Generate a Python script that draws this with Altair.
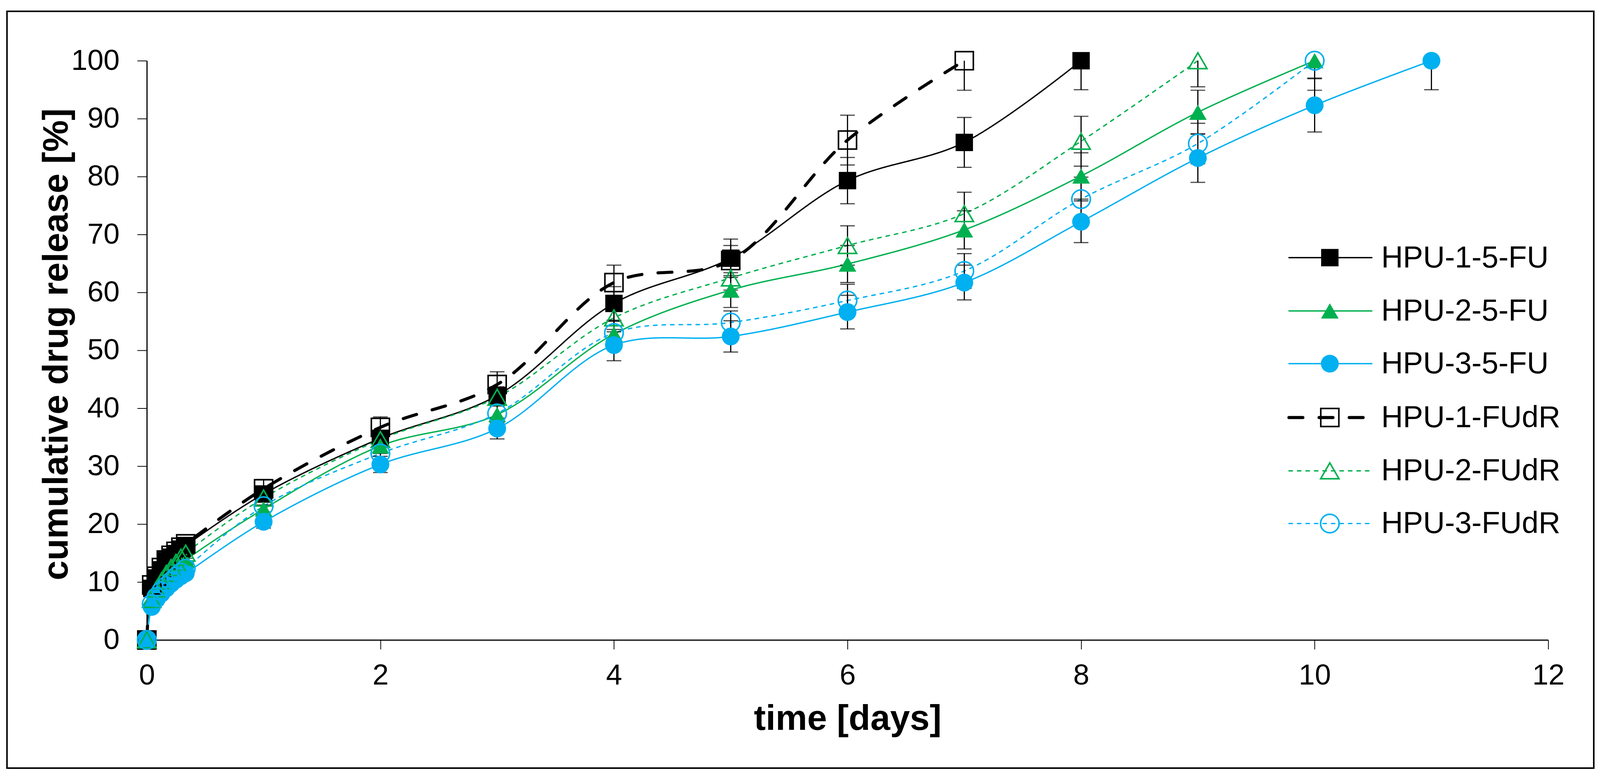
import altair as alt
import pandas as pd

# ---------------- data ----------------
SERIES = ["HPU-1-5-FU", "HPU-2-5-FU", "HPU-3-5-FU", "HPU-1-FUdR", "HPU-2-FUdR", "HPU-3-FUdR"]
FILLED = ["HPU-1-5-FU", "HPU-2-5-FU", "HPU-3-5-FU"]
OPEN = ["HPU-1-FUdR", "HPU-2-FUdR", "HPU-3-FUdR"]
THICK = ["HPU-1-FUdR"]
THIN = ["HPU-1-5-FU", "HPU-2-5-FU", "HPU-3-5-FU", "HPU-2-FUdR", "HPU-3-FUdR"]

t_early = [0, 0.042, 0.083, 0.125, 0.167, 0.208, 0.25, 0.292, 0.333]

time_1_5fu = t_early + [1, 2, 3, 4, 5, 6, 7, 8]
rel_1_5fu = [0, 8.9, 10.7, 12.1, 13.7, 14.3, 14.9, 15.7, 16.3, 25.2, 34.8, 42.2, 58.1, 65.9, 79.3, 85.9, 100]
sd_1_5fu = [0, 0.8, 0.8, 0.9, 0.9, 0.9, 1.0, 1.0, 1.0, 1.0, 1.2, 1.5, 2.9, 3.3, 4.0, 4.3, 5.0]

time_2_5fu = t_early + [1, 2, 3, 4, 5, 6, 7, 8, 9, 10]
rel_2_5fu = [0, 6.5, 8.0, 9.4, 10.6, 11.6, 12.4, 13.1, 13.8, 22.6, 33.5, 38.9, 52.8, 60.4, 64.9, 70.8, 80.1, 91.1, 100]
sd_2_5fu = [0, 0.7, 0.7, 0.8, 0.8, 0.8, 0.9, 0.9, 0.9, 1.2, 1.3, 1.5, 2.3, 3.0, 3.2, 3.3, 4.0, 3.8, 5.1]

time_3_5fu = t_early + [1, 2, 3, 4, 5, 6, 7, 8, 9, 10, 11]
rel_3_5fu = [0, 5.7, 7.0, 8.0, 8.9, 9.7, 10.4, 11.0, 11.5, 20.4, 30.3, 36.5, 50.9, 52.4, 56.6, 61.7, 72.2, 83.2, 92.3, 100]
sd_3_5fu = [0, 0.6, 0.6, 0.7, 0.7, 0.7, 0.8, 0.8, 0.8, 1.1, 1.4, 1.8, 2.7, 2.7, 2.9, 3.0, 3.6, 4.2, 4.6, 5.0]

time_1_fudr = t_early + [1, 2, 3, 4, 5, 6, 7]
rel_1_fudr = [0, 9.5, 11.0, 12.5, 13.8, 14.6, 15.3, 16.0, 16.6, 26.1, 36.7, 44.1, 61.7, 65.5, 86.3, 100]
sd_1_fudr = [0, 0.8, 0.8, 0.9, 0.9, 0.9, 1.0, 1.0, 1.0, 1.6, 1.8, 2.2, 3.0, 2.6, 4.3, 5.1]

time_2_fudr = t_early + [1, 2, 3, 4, 5, 6, 7, 8, 9]
rel_2_fudr = [0, 7.0, 8.8, 10.2, 11.5, 12.5, 13.4, 14.3, 15.0, 24.5, 34.6, 41.9, 55.6, 62.5, 68.1, 73.6, 86.1, 100]
sd_2_fudr = [0, 0.7, 0.7, 0.8, 0.8, 0.8, 0.9, 0.9, 0.9, 1.2, 1.4, 1.5, 2.4, 2.1, 3.4, 3.7, 4.3, 4.5]

time_3_fudr = t_early + [1, 2, 3, 4, 5, 6, 7, 8, 9, 10]
rel_3_fudr = [0, 6.2, 7.4, 8.4, 9.3, 10.1, 10.9, 11.6, 12.3, 23.1, 32.2, 39.1, 53.0, 54.8, 58.6, 63.7, 76.1, 85.7, 100]
sd_3_fudr = [0, 0.6, 0.6, 0.7, 0.7, 0.7, 0.8, 0.8, 0.8, 1.0, 1.3, 1.5, 2.0, 2.0, 2.8, 3.0, 3.8, 3.5, 3.0]

X_TICKS = [0, 2, 4, 6, 8, 10, 12]
Y_TICKS = [0, 10, 20, 30, 40, 50, 60, 70, 80, 90, 100]

# ---------------- styles ----------------
COLORS = ["#000000", "#00B050", "#00B0F0", "#000000", "#00B050", "#00B0F0"]
SHAPES = ["square", "triangle-up", "circle", "square", "triangle-up", "circle"]
DASHES = [[1, 0], [1, 0], [1, 0], [36, 42], [9, 13], [9, 13]]
SIZES = [2025, 2300, 2116, 1700, 1950, 1760]

FONT = "Liberation Sans"

series_data = [
    ("HPU-1-5-FU", time_1_5fu, rel_1_5fu, sd_1_5fu),
    ("HPU-2-5-FU", time_2_5fu, rel_2_5fu, sd_2_5fu),
    ("HPU-3-5-FU", time_3_5fu, rel_3_5fu, sd_3_5fu),
    ("HPU-1-FUdR", time_1_fudr, rel_1_fudr, sd_1_fudr),
    ("HPU-2-FUdR", time_2_fudr, rel_2_fudr, sd_2_fudr),
    ("HPU-3-FUdR", time_3_fudr, rel_3_fudr, sd_3_fudr),
]
rows = []
for name, ts, vs, ss in series_data:
    for t, v, s in zip(ts, vs, ss):
        rows.append({"series": name, "t": t, "v": v, "sd": s})
df = pd.DataFrame(rows)

# legend layout (positions in data units)
LEG_Y = [66, 56.8, 47.7, 38.4, 29.2, 20.1]
leg = pd.DataFrame({"series": SERIES, "ly": LEG_Y})
leg["lx0"] = 9.78
leg["lx1"] = 10.49
leg["lxm"] = 10.13
leg["lxt"] = 10.57

W, H = 3628, 1500

color_s = alt.Color("series:N", scale=alt.Scale(domain=SERIES, range=COLORS), legend=None)
dash_s = alt.StrokeDash("series:N", scale=alt.Scale(domain=SERIES, range=DASHES), legend=None)
shape_s = alt.Shape("series:N", scale=alt.Scale(domain=SERIES, range=SHAPES), legend=None)
size_s = alt.Size("series:N", scale=alt.Scale(domain=SERIES, range=SIZES), legend=None)


def only(names):
    return alt.FieldOneOfPredicate(field="series", oneOf=names)


x_enc = alt.X(
    "t:Q",
    scale=alt.Scale(domain=[0, 12], nice=False, zero=False),
    axis=alt.Axis(
        values=X_TICKS, grid=False, title="time [days]", format="d", labelFlush=False,
        domainColor="black", domainWidth=3, tickColor="black", tickWidth=2, tickSize=24,
        labelFont=FONT, labelFontSize=75, labelColor="black", labelPadding=32,
        titleFont=FONT, titleFontSize=92, titleFontWeight="bold", titleColor="black",
        titleX=1814, titleY=204, titleAlign="center", titleBaseline="middle",
    ),
)
y_enc = alt.Y(
    "v:Q",
    scale=alt.Scale(domain=[0, 100], nice=False),
    axis=alt.Axis(
        values=Y_TICKS, grid=False, title="cumulative drug release [%]", format="d", labelFlush=False,
        domainColor="black", domainWidth=3, tickColor="black", tickWidth=2, tickSize=25,
        labelFont=FONT, labelFontSize=75, labelColor="black", labelPadding=46,
        titleFont=FONT, titleFontSize=92, titleFontWeight="bold", titleColor="black",
        titleX=-234, titleY=734, titleAlign="center", titleBaseline="middle", titleAngle=270,
    ),
)

base = alt.Chart(df)

lines_thin = base.transform_filter(only(THIN)).mark_line(
    interpolate="catmull-rom", strokeCap="round", strokeWidth=3.5
).encode(x=x_enc, y=y_enc, color=color_s, strokeDash=dash_s, detail="series:N", order="t:Q")

lines_thick = base.transform_filter(only(THICK)).mark_line(
    interpolate="catmull-rom", strokeCap="round", strokeWidth=8
).encode(x="t:Q", y="v:Q", color=color_s, strokeDash=dash_s, detail="series:N", order="t:Q")

err = base.transform_filter("datum.sd > 0").transform_calculate(
    lo="datum.v - datum.sd", hi="datum.v + datum.sd"
)
err_rule = err.mark_rule(color="black", strokeWidth=3, clip=True).encode(
    x="t:Q", y="lo:Q", y2="hi:Q"
)
err_lo = err.mark_tick(color="black", thickness=3, size=38, orient="horizontal", clip=True).encode(
    x="t:Q", y="lo:Q"
)
err_hi = err.mark_tick(color="black", thickness=3, size=38, orient="horizontal", clip=True).encode(
    x="t:Q", y="hi:Q"
)

filled_pts = base.transform_filter(only(FILLED)).mark_point(filled=True, opacity=1).encode(
    x="t:Q", y="v:Q", color=color_s, shape=shape_s, size=size_s
)
open_pts = base.transform_filter(only(OPEN)).mark_point(filled=False, opacity=1, strokeWidth=4).encode(
    x="t:Q", y="v:Q", color=color_s, shape=shape_s, size=size_s
)

lbase = alt.Chart(leg)
leg_thin = lbase.transform_filter(only(THIN)).mark_rule(strokeCap="round", strokeWidth=3.5).encode(
    x="lx0:Q", x2="lx1:Q", y="ly:Q", color=color_s, strokeDash=dash_s
)
leg_thick = lbase.transform_filter(only(THICK)).mark_rule(strokeCap="round", strokeWidth=8).encode(
    x="lx0:Q", x2="lx1:Q", y="ly:Q", color=color_s, strokeDash=dash_s
)
leg_filled = lbase.transform_filter(only(FILLED)).mark_point(filled=True, opacity=1).encode(
    x="lxm:Q", y="ly:Q", color=color_s, shape=shape_s, size=size_s
)
leg_open = lbase.transform_filter(only(OPEN)).mark_point(filled=False, opacity=1, strokeWidth=4).encode(
    x="lxm:Q", y="ly:Q", color=color_s, shape=shape_s, size=size_s
)
leg_text = lbase.mark_text(
    align="left", baseline="middle", font=FONT, fontSize=78, color="black", dy=2
).encode(x="lxt:Q", y="ly:Q", text="series:N")

frame = alt.Chart(pd.DataFrame({"a": [0]})).mark_rect(
    fill=None, stroke="black", strokeWidth=4
).encode(
    x=alt.value(-362), x2=alt.value(3746), y=alt.value(-128), y2=alt.value(1832)
)

chart = alt.layer(
    lines_thin, lines_thick, err_rule, err_lo, err_hi, filled_pts, open_pts,
    leg_thin, leg_thick, leg_filled, leg_open, leg_text, frame,
).properties(
    width=W, height=H,
    autosize=alt.AutoSizeParams(type="none"),
    padding={"left": 372, "top": 138, "right": 126, "bottom": 340},
    background="white",
).configure_view(stroke=None)

chart.save("out.html", embed_options={"renderer": "svg", "actions": False})
